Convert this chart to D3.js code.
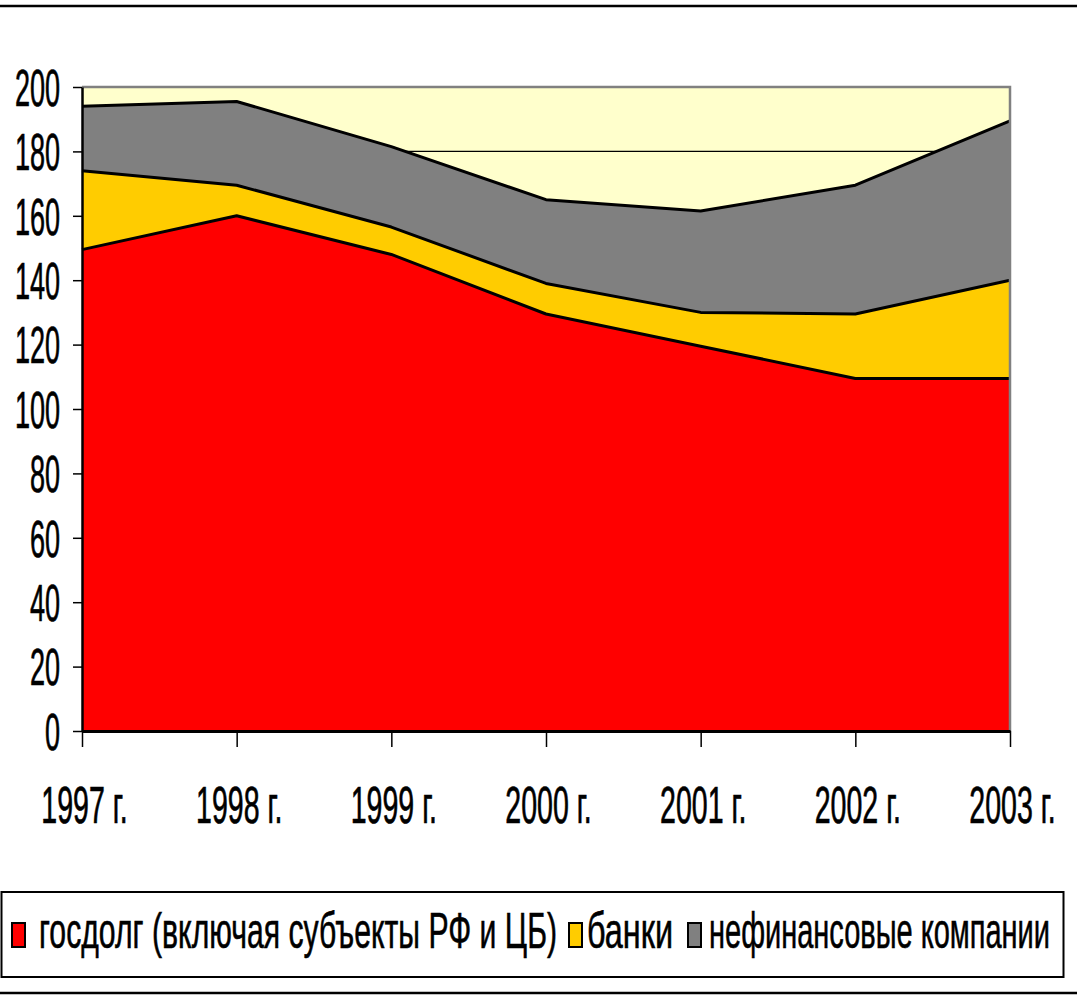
<!DOCTYPE html>
<html>
<head>
<meta charset="utf-8">
<script src="https://cdn.jsdelivr.net/npm/d3@7"></script>
<style>
  body { margin: 0; background: #fff; }
  svg { display: block; font-family: "Liberation Sans", Arial, sans-serif; }
</style>
</head>
<body>
<svg id="chart" width="1077" height="995"></svg>
<script>
// data (stacked area, values per year)
const years = ["1997 г.", "1998 г.", "1999 г.", "2000 г.", "2001 г.", "2002 г.", "2003 г."];
const gosdolg = [149.5, 160, 148, 129.5, 119.5, 109.5, 109.5];
const banki = [24.5, 9.5, 8.5, 9.5, 10.5, 20, 30.5];
const nefin = [20, 26, 25, 26, 31.5, 40, 49.5];
const yTicks = [0, 20, 40, 60, 80, 100, 120, 140, 160, 180, 200];
const seriesKeys = ["gosdolg", "banki", "nefin"];
const seriesLabels = ["госдолг (включая субъекты РФ и ЦБ)", "банки", "нефинансовые компании"];
const seriesColors = ["#ff0000", "#ffcc00", "#808080"];

const FONT = '"Liberation Sans", Arial, sans-serif';
const SQUEEZE = 0.56; // the original text is very narrow

// dimensions
const plotLeft = 82;
const plotRight = 1010;
const plotTop = 87;
const plotBottom = 731;

const svg = d3.select('#chart');

// squeeze text horizontally
const squeeze = (sel, k) => sel.each(function () {
  const len = this.getComputedTextLength();
  d3.select(this).attr('textLength', len * k).attr('lengthAdjust', 'spacingAndGlyphs');
});

// outer frame lines
svg.append('line').attr('x1', 0).attr('x2', 1077).attr('y1', 6).attr('y2', 6)
  .attr('stroke', '#000').attr('stroke-width', 2.5);
svg.append('line').attr('x1', 0).attr('x2', 1077).attr('y1', 993).attr('y2', 993)
  .attr('stroke', '#000').attr('stroke-width', 2.5);

// scales
const x = d3.scalePoint().domain(years).range([plotLeft, plotRight]);
const y = d3.scaleLinear().domain([0, 200]).range([plotBottom, plotTop]);

// plot background
svg.append('rect')
  .attr('x', plotLeft).attr('y', plotTop)
  .attr('width', plotRight - plotLeft).attr('height', plotBottom - plotTop)
  .attr('fill', '#ffffcc');

// horizontal grid lines (only visible where the areas do not cover them)
svg.append('g').selectAll('line')
  .data(yTicks.filter(t => t > 0 && t < 200))
  .enter().append('line')
  .attr('x1', plotLeft).attr('x2', plotRight)
  .attr('y1', d => y(d)).attr('y2', d => y(d))
  .attr('stroke', '#000').attr('stroke-width', 1.2);

// stacked areas
const table = years.map((yr, i) => ({ year: yr, gosdolg: gosdolg[i], banki: banki[i], nefin: nefin[i] }));
const stacked = d3.stack().keys(seriesKeys)(table);

const area = d3.area()
  .x(d => x(d.data.year))
  .y0(d => y(d[0]))
  .y1(d => y(d[1]));

const topLine = d3.line()
  .x(d => x(d.data.year))
  .y(d => y(d[1]));

svg.append('g').selectAll('path')
  .data(stacked)
  .enter().append('path')
  .attr('d', area)
  .attr('fill', (d, i) => seriesColors[i]);

svg.append('g').selectAll('path')
  .data(stacked)
  .enter().append('path')
  .attr('d', topLine)
  .attr('fill', 'none')
  .attr('stroke', '#000')
  .attr('stroke-width', 3)
  .attr('stroke-linejoin', 'round');

// plot border, top and right
svg.append('path')
  .attr('d', `M${plotLeft},${plotTop}H${plotRight}V${plotBottom}`)
  .attr('fill', 'none')
  .attr('stroke', '#808080')
  .attr('stroke-width', 2.5);

// y axis
const yAxis = svg.append('g')
  .attr('transform', `translate(${plotLeft},0)`)
  .call(d3.axisLeft(y).tickValues(yTicks).tickSize(9).tickPadding(13).tickSizeOuter(0))
  .attr('font-family', FONT)
  .attr('font-size', 51);
yAxis.select('.domain').attr('stroke', '#000').attr('stroke-width', 2.5);
yAxis.selectAll('.tick line').attr('stroke', '#000').attr('stroke-width', 1.5);
yAxis.selectAll('text')
  .attr('fill', '#000').attr('stroke', '#000').attr('stroke-width', 0.7)
  .attr('dy', '0.36em')
  .call(squeeze, 0.53);

// x axis
const xAxis = svg.append('g')
  .attr('transform', `translate(0,${plotBottom})`)
  .call(d3.axisBottom(x).tickSize(16).tickSizeOuter(0))
  .attr('font-family', FONT)
  .attr('font-size', 51);
xAxis.select('.domain').attr('stroke', '#000').attr('stroke-width', 3);
xAxis.selectAll('.tick line').attr('stroke', '#000').attr('stroke-width', 1.5);
xAxis.selectAll('text')
  .attr('fill', '#000').attr('stroke', '#000').attr('stroke-width', 0.7)
  .attr('y', 92).attr('dy', 0).attr('x', 2)
  .call(squeeze, SQUEEZE);

// legend
svg.append('rect')
  .attr('x', 1.5).attr('y', 892)
  .attr('width', 1062).attr('height', 85)
  .attr('fill', '#fff').attr('stroke', '#000').attr('stroke-width', 2);

const markerX = [12, 569, 688];
const labelX = [39, 587, 709];
const labelW = [518, 86, 341];
const legend = svg.append('g').selectAll('g')
  .data(seriesLabels)
  .enter().append('g');

legend.append('rect')
  .attr('x', (d, i) => markerX[i]).attr('y', 923)
  .attr('width', 13).attr('height', 24)
  .attr('fill', (d, i) => seriesColors[i])
  .attr('stroke', '#000').attr('stroke-width', 2);

legend.append('text')
  .attr('x', (d, i) => labelX[i]).attr('y', 948)
  .attr('font-family', FONT)
  .attr('font-size', 50)
  .attr('stroke', '#000').attr('stroke-width', 0.6)
  .attr('textLength', (d, i) => labelW[i])
  .attr('lengthAdjust', 'spacingAndGlyphs')
  .text(d => d);
</script>
</body>
</html>
